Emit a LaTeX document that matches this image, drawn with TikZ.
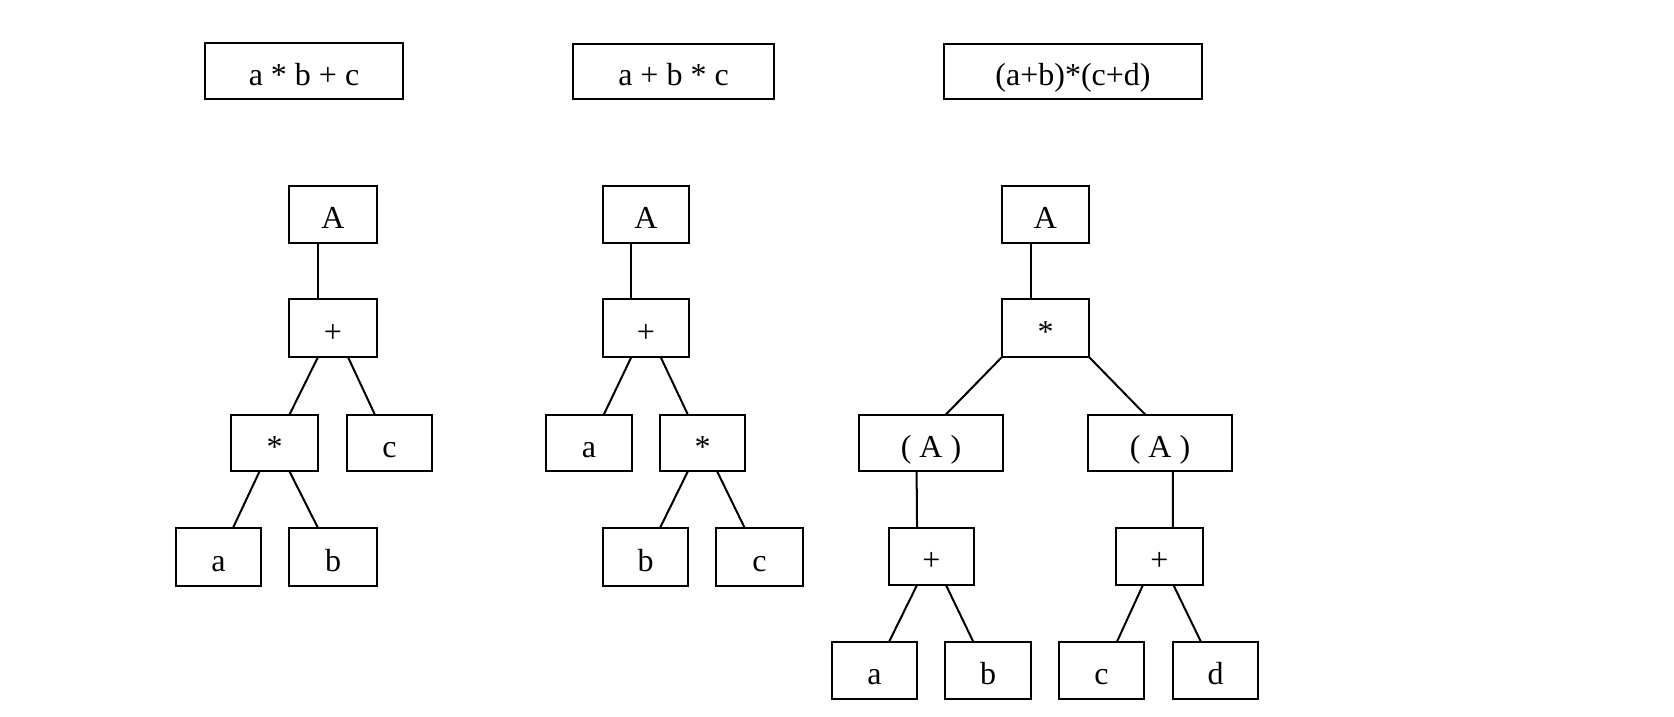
\documentclass[tikz,border=0pt]{standalone}
\usepackage{fontspec}
\setmainfont{Liberation Serif}
\usetikzlibrary{calc}
\tikzset{
  box/.style={draw=black, line width=2pt, rectangle, inner sep=0pt, outer sep=0pt,
    font=\fontsize{32}{36}\selectfont, text height=28pt, text depth=0pt},
  link/.style={draw=black, line width=2pt}
}
\newcommand{\bx}[6]{\node[box, minimum width={(#3-#2)*1pt}, minimum height={(#5-#4)*1pt}] (#1) at ({(#2+#3)/2},{(#4+#5)/2}) {#6};}
\newcommand{\lnk}[4]{\draw[link] ($(#1.south west)!#2!(#1.south east)$) -- ($(#3.north west)!#4!(#3.north east)$);}
\begin{document}
\begin{tikzpicture}[x=1pt,y=-1pt]
\path[fill=white, use as bounding box] (0,0) rectangle (1674,717);
% top boxes
\bx{T1}{205}{403}{43}{99}{a * b + c}
\bx{T2}{573}{774}{44}{99}{a + b * c}
\bx{T3}{944}{1202}{44}{99}{(a+b)*(c+d)}
% tree 1
\bx{A1}{289}{377}{186}{243}{A}
\bx{P1}{289}{377}{299}{357}{+}
\bx{S1}{231}{318}{415}{471}{*}
\bx{C1}{347}{432}{415}{471}{c}
\bx{a1}{176}{261}{528}{586}{a}
\bx{b1}{289}{377}{528}{586}{b}
\lnk{A1}{0.33}{P1}{0.33}
\lnk{P1}{0.33}{S1}{0.67}
\lnk{P1}{0.67}{C1}{0.33}
\lnk{S1}{0.33}{a1}{0.67}
\lnk{S1}{0.67}{b1}{0.33}
% tree 2
\bx{A2}{603}{689}{186}{243}{A}
\bx{P2}{603}{689}{299}{357}{+}
\bx{a2}{546}{632}{415}{471}{a}
\bx{S2}{660}{745}{415}{471}{*}
\bx{b2}{603}{688}{528}{586}{b}
\bx{c2}{716}{803}{528}{586}{c}
\lnk{A2}{0.33}{P2}{0.33}
\lnk{P2}{0.33}{a2}{0.67}
\lnk{P2}{0.67}{S2}{0.33}
\lnk{S2}{0.33}{b2}{0.67}
\lnk{S2}{0.67}{c2}{0.33}
% tree 3
\bx{A3}{1002}{1089}{186}{243}{A}
\bx{S3}{1002}{1089}{299}{357}{*}
\bx{L3}{859}{1003}{415}{471}{( A )}
\bx{R3}{1088}{1232}{415}{471}{( A )}
\bx{PL}{889}{974}{528}{585}{+}
\bx{PR}{1116}{1203}{528}{585}{+}
\bx{a3}{832}{917}{642}{699}{a}
\bx{b3}{945}{1031}{642}{699}{b}
\bx{c3}{1059}{1144}{642}{699}{c}
\bx{d3}{1173}{1258}{642}{699}{d}
\lnk{A3}{0.33}{S3}{0.33}
\lnk{S3}{0}{L3}{0.6}
\lnk{S3}{1}{R3}{0.4}
\lnk{L3}{0.4}{PL}{0.33}
\lnk{R3}{0.59}{PR}{0.655}
\lnk{PL}{0.33}{a3}{0.67}
\lnk{PL}{0.67}{b3}{0.33}
\lnk{PR}{0.31}{c3}{0.68}
\lnk{PR}{0.66}{d3}{0.33}
\end{tikzpicture}
\end{document}
